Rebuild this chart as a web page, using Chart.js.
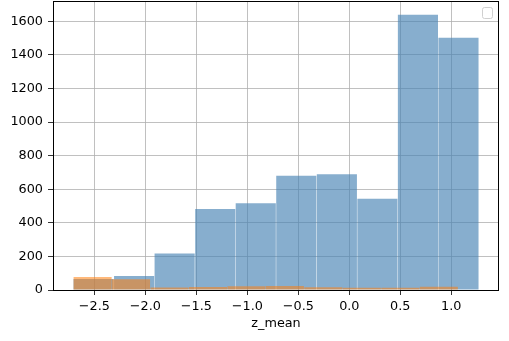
<!DOCTYPE html>
<html>
<head>
<meta charset="utf-8">
<script src="https://cdn.jsdelivr.net/npm/chart.js@4.4.1/dist/chart.umd.min.js"></script>
<style>
  html, body { margin: 0; padding: 0; background: #fff; }
  #wrap { width: 509px; height: 341px; position: relative; }
</style>
</head>
<body>
<div id="wrap"><canvas id="hist"></canvas></div>
<script>
// histogram data
const blueEdges = [-2.707, -2.309, -1.912, -1.514, -1.116, -0.719, -0.321, 0.077, 0.474, 0.872, 1.269];
const blueCounts = [66, 83, 218, 482, 516, 680, 690, 543, 1639, 1502];
const orangeEdges = [-2.706, -2.329, -1.952, -1.574, -1.197, -0.820, -0.443, -0.066, 0.312, 0.689, 1.066];
const orangeCounts = [78, 64, 15, 18, 22, 24, 17, 14, 13, 19];
const xTicks = [-2.5, -2.0, -1.5, -1.0, -0.5, 0.0, 0.5, 1.0];
const yTicks = [0, 200, 400, 600, 800, 1000, 1200, 1400, 1600];
const xLabel = 'z_mean';

// axis limits like matplotlib's 5% margins
const xMin = -2.906, xMax = 1.468;
const yMax = 1721;

const toBars = (edges, counts) => counts.map((c, i) => ({ x: (edges[i] + edges[i + 1]) / 2, y: c }));

const font = { family: '"DejaVu Sans", sans-serif', size: 12.8 };

// frame on all four sides + empty legend box
const framePlugin = {
  id: 'frame',
  afterDraw(chart) {
    const { ctx, chartArea: a } = chart;
    ctx.save();
    ctx.strokeStyle = '#000';
    ctx.lineWidth = 1;
    ctx.strokeRect(Math.round(a.left) + 0.5, Math.round(a.top) + 0.5,
      Math.round(a.right - a.left) - 1, Math.round(a.bottom - a.top));
    // empty legend frame
    const w = 10, h = 11;
    const x = a.right - 7 - w, y = a.top + 6;
    ctx.fillStyle = 'rgba(255,255,255,0.8)';
    ctx.strokeStyle = '#d0d0d0';
    ctx.beginPath();
    ctx.roundRect(x + 0.5, y + 0.5, w, h, 2);
    ctx.fill();
    ctx.stroke();
    ctx.restore();
  }
};

const noPad = s => { s.paddingTop = 0; s.paddingBottom = 0; s.paddingLeft = 0; s.paddingRight = 0; };

new Chart(document.getElementById('hist').getContext('2d'), {
  type: 'bar',
  data: {
    datasets: [
      {
        label: 'orange',
        data: toBars(orangeEdges, orangeCounts),
        xAxisID: 'x2',
        backgroundColor: 'rgba(255,127,14,0.55)',
        borderWidth: 0,
        grouped: false,
        barPercentage: 0.99,
        categoryPercentage: 1
      },
      {
        label: 'blue',
        data: toBars(blueEdges, blueCounts),
        xAxisID: 'x',
        backgroundColor: 'rgba(70,130,180,0.65)',
        borderWidth: 0,
        grouped: false,
        barPercentage: 0.99,
        categoryPercentage: 1
      }
    ]
  },
  options: {
    responsive: true,
    maintainAspectRatio: false,
    animation: false,
    layout: { padding: { top: 1, right: 10, left: 0, bottom: 0 } },
    plugins: {
      legend: { display: false },
      tooltip: { enabled: false }
    },
    scales: {
      x: {
        type: 'linear',
        position: 'bottom',
        offset: false,
        min: xMin,
        max: xMax,
        z: 1,
        afterBuildTicks: s => { s.ticks = xTicks.map(v => ({ value: v })); },
        afterFit: s => { s.height = 51; noPad(s); },
        grid: { offset: false, color: '#b0b0b0', lineWidth: 0.8, tickLength: 5, tickColor: '#000', drawTicks: true },
        border: { display: false },
        ticks: {
          color: '#000',
          font: font,
          padding: 4,
          maxRotation: 0,
          callback: v => (v < 0 ? '\u2212' : '') + Math.abs(v).toFixed(1)
        },
        title: { display: true, text: xLabel, color: '#000', font: font, padding: { top: 0, bottom: 10 } }
      },
      x2: {
        type: 'linear',
        display: false,
        offset: false,
        min: xMin,
        max: xMax,
        afterBuildTicks: s => { s.ticks = xTicks.map(v => ({ value: v })); },
        afterFit: noPad
      },
      y: {
        type: 'linear',
        min: 0,
        max: yMax,
        z: 1,
        afterBuildTicks: s => { s.ticks = yTicks.map(v => ({ value: v })); },
        afterFit: s => { s.width = 53; noPad(s); },
        grid: { color: '#b0b0b0', lineWidth: 0.8, tickLength: 5, tickColor: '#000', drawTicks: true },
        border: { display: false },
        ticks: { color: '#000', font: font, padding: 5, callback: v => String(v) }
      }
    }
  },
  plugins: [framePlugin]
});
</script>
</body>
</html>
